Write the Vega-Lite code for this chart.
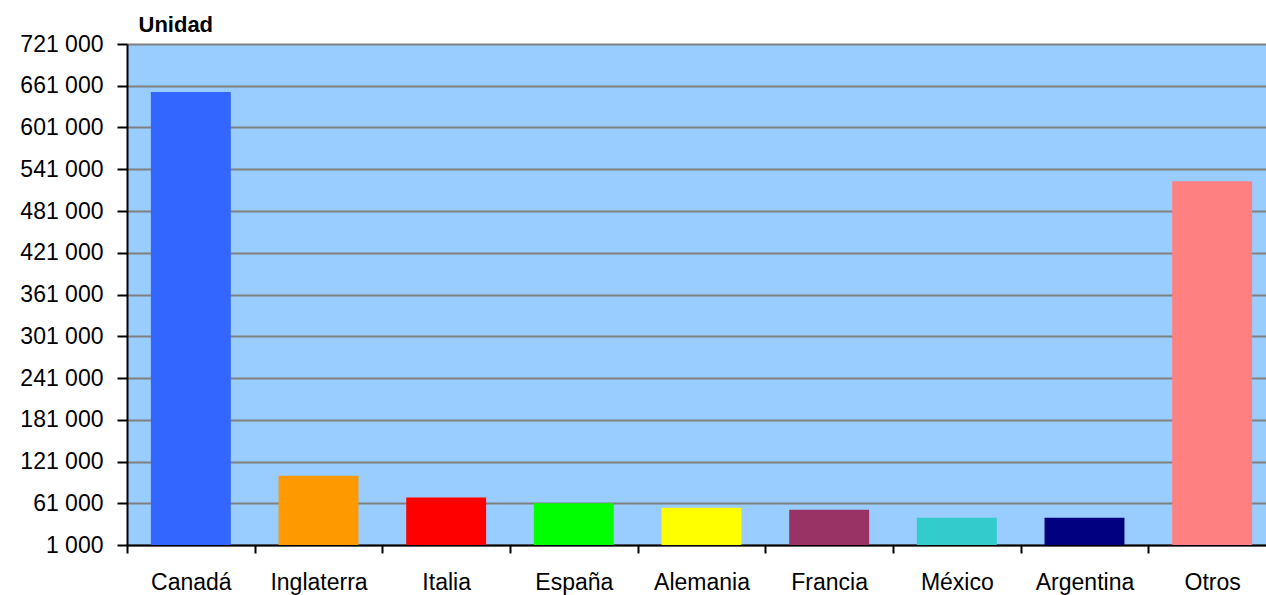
{
  "$schema": "https://vega.github.io/schema/vega-lite/v6.json",
  "width": 1139,
  "height": 501,
  "autosize": {"type": "none"},
  "padding": {"left": 127, "top": 44, "right": 0, "bottom": 50},
  "background": "white",
  "config": {
    "view": {"fill": "#99CCFF", "stroke": null},
    "font": "Liberation Sans"
  },
  "data": {
    "values": [
      {"pais": "Canadá", "unidad": 652000},
      {"pais": "Inglaterra", "unidad": 100700},
      {"pais": "Italia", "unidad": 69100},
      {"pais": "España", "unidad": 61000},
      {"pais": "Alemania", "unidad": 54700},
      {"pais": "Francia", "unidad": 51800},
      {"pais": "México", "unidad": 40300},
      {"pais": "Argentina", "unidad": 40300},
      {"pais": "Otros", "unidad": 523700}
    ]
  },
  "mark": {"type": "bar", "width": {"band": 0.626}},
  "encoding": {
    "x": {
      "field": "pais",
      "type": "nominal",
      "sort": null,
      "scale": {"paddingInner": 0, "paddingOuter": 0, "range": [0, 1149]},
      "axis": {
        "title": null,
        "labelAngle": 0,
        "labelFontSize": 23,
        "labelColor": "black",
        "labelBaseline": "alphabetic",
        "labelPadding": 36,
        "tickBand": "extent",
        "tickSize": 8,
        "tickWidth": 2,
        "tickColor": "black",
        "domainColor": "black",
        "domainWidth": 2,
        "grid": false
      }
    },
    "y": {
      "field": "unidad",
      "type": "quantitative",
      "scale": {"domain": [1000, 721000], "nice": false, "zero": false},
      "axis": {
        "title": "Unidad",
        "titleAngle": 0,
        "titleX": 11,
        "titleY": -13,
        "titleAlign": "left",
        "titleBaseline": "alphabetic",
        "titleFontSize": 22,
        "titleFontWeight": "bold",
        "titleColor": "black",
        "values": [1000, 61000, 121000, 181000, 241000, 301000, 361000, 421000, 481000, 541000, 601000, 661000, 721000],
        "labelExpr": "replace(format(datum.value, ','), ',', ' ')",
        "labelFontSize": 23,
        "labelColor": "black",
        "labelPadding": 14,
        "tickSize": 10,
        "tickWidth": 2,
        "tickColor": "black",
        "domainColor": "black",
        "domainWidth": 2,
        "grid": true,
        "gridColor": "#808080",
        "gridWidth": 2
      }
    },
    "y2": {"datum": 1000},
    "color": {
      "field": "pais",
      "type": "nominal",
      "scale": {
        "domain": ["Canadá", "Inglaterra", "Italia", "España", "Alemania", "Francia", "México", "Argentina", "Otros"],
        "range": ["#3366FF", "#FF9900", "#FF0000", "#00FF00", "#FFFF00", "#993366", "#33CCCC", "#000080", "#FF8080"]
      },
      "legend": null
    }
  }
}
